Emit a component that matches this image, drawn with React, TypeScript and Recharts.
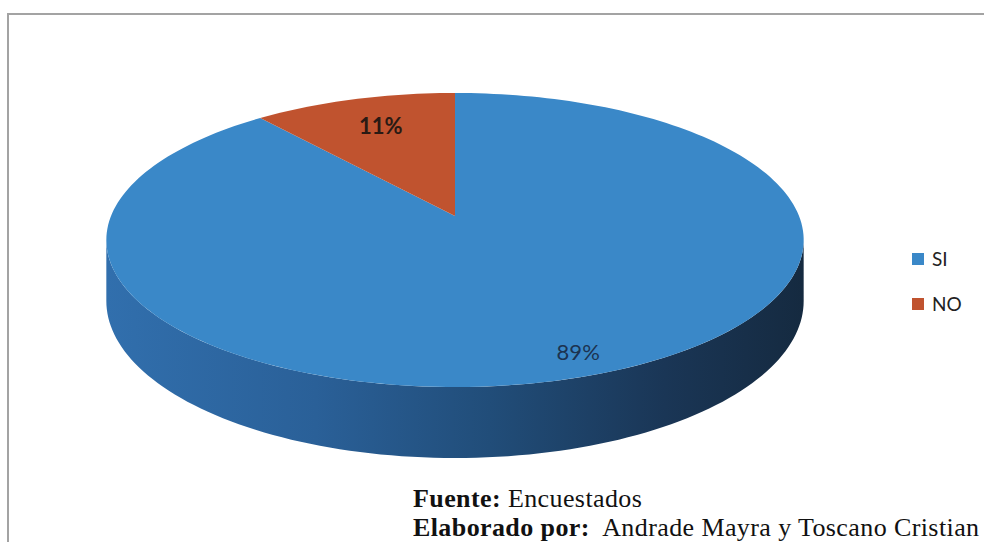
import React from 'react';
import { PieChart, Pie, Cell, Legend } from 'recharts';

const categories = ['SI', 'NO'];
const values = [89, 11];
const valueLabels = ['89%', '11%'];
const sliceColors = ['#3a88c8', '#c0532f'];
const footerSource = 'Encuestados';
const footerAuthor = 'Andrade Mayra y Toscano Cristian';

const data = categories.map((name, i) => ({ name, value: values[i], label: valueLabels[i] }));

const W = 984;
const H = 542;
const K = 0.1632; // perspective strength
const TILT = 0.416; // vertical squash of top face
const DEPTH = 0.1727; // wall height relative to radius
const FRONT_LO = 180 + (Math.asin(K) * 180) / Math.PI;
const FRONT_HI = 360 - (Math.asin(K) * 180) / Math.PI;

function proj(cx: number, cy: number, r: number, deg: number, f = 1): [number, number, number] {
  const t = (deg * Math.PI) / 180;
  const X = f * Math.cos(t);
  const Z = f * Math.sin(t);
  const w = 1 + K * Z;
  return [cx + (r * X) / w, cy - (r * TILT * Z) / w, w];
}

const SliceShape = (props: any) => {
  const { cx, cy, outerRadius, startAngle, endAngle, fill, index } = props;
  const n = Math.max(2, Math.ceil(Math.abs(endAngle - startAngle) / 1.5));
  const pts: string[] = [];
  for (let i = 0; i <= n; i++) {
    const a = startAngle + ((endAngle - startAngle) * i) / n;
    const p = proj(cx, cy, outerRadius, a);
    pts.push(`L${p[0].toFixed(2)},${p[1].toFixed(2)}`);
  }
  const top = `M${cx},${cy} ${pts.join(' ')} Z`;

  const walls: string[] = [];
  const lo = Math.min(startAngle, endAngle);
  const hi = Math.max(startAngle, endAngle);
  for (const shift of [-720, -360, 0, 360]) {
    const a = Math.max(lo, FRONT_LO + shift);
    const b = Math.min(hi, FRONT_HI + shift);
    if (a < b) {
      const m = Math.max(2, Math.ceil((b - a) / 1.5));
      const upper: string[] = [];
      const lower: string[] = [];
      for (let i = 0; i <= m; i++) {
        const ang = a + ((b - a) * i) / m;
        const p = proj(cx, cy, outerRadius, ang);
        upper.push(`${p[0].toFixed(2)},${p[1].toFixed(2)}`);
        lower.push(`${p[0].toFixed(2)},${(p[1] + (outerRadius * DEPTH) / p[2]).toFixed(2)}`);
      }
      lower.reverse();
      walls.push(`M${upper.join(' L')} L${lower.join(' L')} Z`);
    }
  }
  const gid = `wallGrad${index}`;
  return (
    <g>
      <defs>
        <linearGradient id={gid} x1="0" y1="0" x2="1" y2="0">
          <stop offset="0%" stopColor="#316fad" />
          <stop offset="30%" stopColor="#2a6098" />
          <stop offset="55%" stopColor="#214d79" />
          <stop offset="80%" stopColor="#1a3656" />
          <stop offset="100%" stopColor="#152a40" />
        </linearGradient>
      </defs>
      {walls.map((d, i) => (
        <path key={i} d={d} fill={`url(#${gid})`} stroke="none" />
      ))}
      <path d={top} fill={fill} stroke="none" />
    </g>
  );
};

const renderLabel = (p: any) => {
  const { cx, cy, outerRadius, midAngle, index } = p;
  const s = Math.sin((midAngle * Math.PI) / 180);
  const f = 0.81 - 0.065 * s;
  const [x, y] = proj(cx, cy, outerRadius, midAngle, f);
  return (
    <text
      x={x + (index === 0 ? 6 : 4)}
      y={y}
      textAnchor="middle"
      dominantBaseline="central"
      fontFamily="Lato, 'Open Sans', sans-serif"
      fontSize={22}
      fontWeight={index === 1 ? 700 : 400}
      fill={index === 1 ? '#2a1a14' : '#1c3350'}
    >
      {data[index].label}
    </text>
  );
};

const renderLegend = (props: any) => {
  const payload = [...(props.payload || [])].sort(
    (a: any, b: any) => categories.indexOf(a.value) - categories.indexOf(b.value)
  );
  return (
    <div style={{ display: 'flex', flexDirection: 'column' }}>
      {payload.map((entry: any, i: number) => (
        <div
          key={i}
          style={{
            display: 'flex',
            alignItems: 'center',
            height: 45,
            fontFamily: "Lato, 'Open Sans', sans-serif",
            fontSize: 19,
            color: '#222',
          }}
        >
          <span
            style={{
              display: 'inline-block',
              width: 12,
              height: 12,
              background: entry.color,
              marginRight: 8,
            }}
          />
          {entry.value}
        </div>
      ))}
    </div>
  );
};

export default function App() {
  return (
    <div style={{ position: 'absolute', left: 0, top: 0, width: W, height: H, background: '#fff', overflow: 'hidden' }}>
      <div
        style={{
          position: 'absolute',
          left: 7,
          top: 13,
          width: W,
          height: H,
          borderLeft: '2px solid #a3a3a3',
          borderTop: '2px solid #a3a3a3',
        }}
      />
      <div style={{ position: 'absolute', left: 0, top: 0 }}>
        <PieChart width={W} height={H} margin={{ top: 0, right: 0, bottom: 0, left: 0 }}>
          <Pie
            data={data}
            dataKey="value"
            nameKey="name"
            cx={455}
            cy={216}
            outerRadius={344}
            startAngle={90}
            endAngle={-270}
            shape={SliceShape}
            label={renderLabel}
            labelLine={false}
            isAnimationActive={false}
            stroke="none"
          >
            {data.map((d, i) => (
              <Cell key={d.name} fill={sliceColors[i]} />
            ))}
          </Pie>
          <Legend
            layout="vertical"
            align="right"
            verticalAlign="middle"
            content={renderLegend}
            wrapperStyle={{ left: 912, top: 236, width: 70, right: 'auto', bottom: 'auto' }}
          />
        </PieChart>
      </div>
      <div
        style={{
          position: 'absolute',
          left: 413,
          top: 484,
          fontFamily: "'Liberation Serif', 'Times New Roman', serif",
          fontSize: 26,
          letterSpacing: '0.4px',
          lineHeight: '29px',
          color: '#111',
          whiteSpace: 'pre',
        }}
      >
        <div>
          <b>Fuente:</b> {footerSource}
        </div>
        <div>
          <b>Elaborado por:</b>{'  '}{footerAuthor}
        </div>
      </div>
    </div>
  );
}
